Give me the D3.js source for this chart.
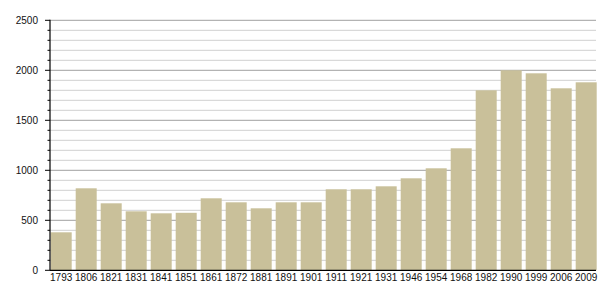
<!DOCTYPE html>
<html>
<head>
<meta charset="utf-8">
<script src="https://cdn.jsdelivr.net/npm/d3@7"></script>
<style>
  body { margin: 0; background: #fff; }
  text { font-family: "Liberation Sans", Arial, sans-serif; font-size: 10px; fill: #111; }
</style>
</head>
<body>
<svg id="chart" width="605" height="300"></svg>
<script>
"use strict";

//
// Data
//

var years = ["1793", "1806", "1821", "1831", "1841", "1851", "1861", "1872", "1881", "1891", "1901",
             "1911", "1921", "1931", "1946", "1954", "1968", "1982", "1990", "1999", "2006", "2009"];

var population = [380, 820, 670, 590, 570, 575, 720, 680, 620, 680, 680,
                  810, 810, 840, 920, 1020, 1220, 1800, 2000, 1970, 1820, 1880];

var yTicks = [0, 500, 1000, 1500, 2000, 2500];


//
// Scales
//

var svg = d3.select("#chart");

var plotLeft = 50, plotRight = 596, plotTop = 20.3, plotBottom = 270.3;

var x = d3.scaleBand()
    .domain(years)
    .range([plotLeft + 0.7, plotLeft + 0.7 + 25 * years.length - 4])
    .paddingInner(4 / 25)
    .paddingOuter(0);

var y = d3.scaleLinear()
    .domain([0, 2500])
    .range([plotBottom, plotTop]);

var minorTicks = d3.range(0, 2501, 100);


//
// Grid
//

svg.append("g").selectAll("line")
    .data(minorTicks.filter(function (d) { return d > 0; }))
    .enter().append("line")
    .attr("x1", plotLeft)
    .attr("x2", plotRight)
    .attr("y1", function (d) { return y(d); })
    .attr("y2", function (d) { return y(d); })
    .style("stroke", function (d) { return d % 500 === 0 ? "#a0a0a0" : "#d0d0d0"; })
    .style("stroke-width", 1);


//
// Bars
//

svg.append("g").selectAll("rect")
    .data(population)
    .enter().append("rect")
    .attr("x", function (d, i) { return x(years[i]); })
    .attr("y", function (d) { return y(d); })
    .attr("width", x.bandwidth())
    .attr("height", function (d) { return y(0) - y(d); })
    .style("fill", "#c9c09a");


//
// Axes
//

var yAxis = svg.append("g").attr("transform", "translate(" + plotLeft + ",0)");

yAxis.selectAll("line.tick")
    .data(minorTicks)
    .enter().append("line")
    .attr("class", "tick")
    .attr("x1", function (d) { return d % 500 === 0 ? -5 : -2.5; })
    .attr("x2", 0)
    .attr("y1", function (d) { return y(d); })
    .attr("y2", function (d) { return y(d); })
    .style("stroke", "#000");

yAxis.append("line")
    .attr("x1", 0).attr("x2", 0)
    .attr("y1", y(2500) - 0.5).attr("y2", y(0))
    .style("stroke", "#000")
    .style("stroke-width", 1.2);

yAxis.selectAll("text")
    .data(yTicks)
    .enter().append("text")
    .attr("x", -12)
    .attr("y", function (d) { return y(d); })
    .attr("dy", "0.35em")
    .attr("text-anchor", "end")
    .text(function (d) { return d; });

svg.append("line")
    .attr("x1", plotLeft).attr("x2", plotRight)
    .attr("y1", y(0)).attr("y2", y(0))
    .style("stroke", "#000")
    .style("stroke-width", 1.2);

svg.append("g").selectAll("text")
    .data(years)
    .enter().append("text")
    .attr("x", function (d) { return x(d) + x.bandwidth() / 2; })
    .attr("y", y(0) + 4)
    .attr("dy", "0.71em")
    .attr("text-anchor", "middle")
    .text(function (d) { return d; });
</script>
</body>
</html>
